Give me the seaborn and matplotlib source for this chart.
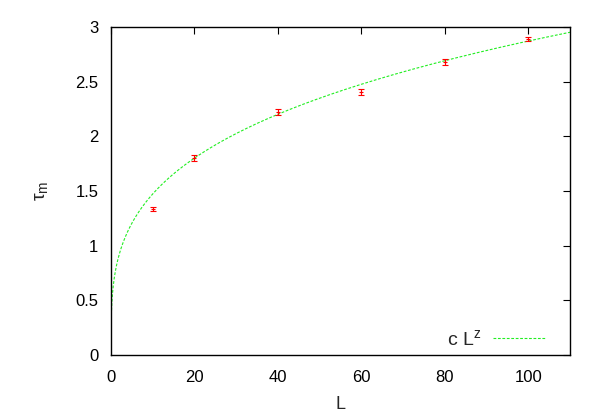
import numpy as np
import pandas as pd
import seaborn as sns
import matplotlib
matplotlib.use("Agg")
import matplotlib.pyplot as plt

# measured points
L_vals = [10, 20, 40, 60, 80, 100]
tau_m = [1.335, 1.80, 2.22, 2.405, 2.68, 2.89]
tau_err = [0.015, 0.025, 0.025, 0.025, 0.025, 0.02]

# fit c L^z
c_fit = 0.755
z_fit = 0.29

sns.set_style("white")
plt.rcParams['font.family'] = ['Liberation Sans', 'DejaVu Sans']
plt.rcParams['mathtext.fontset'] = 'custom'
plt.rcParams['mathtext.rm'] = 'Liberation Sans'
plt.rcParams['mathtext.it'] = 'Liberation Sans'

fig = plt.figure(figsize=(6, 4.2), dpi=100)
ax = fig.add_axes([0.185, 0.155, 0.765, 0.781])

L_fine = np.concatenate([[0], np.geomspace(1e-4, 110, 1500)])
fit_df = pd.DataFrame({"L": L_fine, "tau": c_fit * L_fine ** z_fit})
sns.lineplot(data=fit_df, x="L", y="tau", ax=ax, color="#22ee22",
             linestyle=(0, (2.5, 1.5)), linewidth=0.8, label=r"c L$^{\rm z}$")

ax.errorbar(L_vals, tau_m, yerr=tau_err, fmt="+", color="red", ms=3,
            mew=0.8, elinewidth=0.8, capsize=2.5, capthick=0.8)

ax.set_xlim(0, 110)
ax.set_ylim(0, 3)
ax.set_xticks([0, 20, 40, 60, 80, 100])
ax.set_yticks([0, 0.5, 1, 1.5, 2, 2.5, 3])
ax.set_yticklabels(["0", "0.5", "1", "1.5", "2", "2.5", "3"])
ax.tick_params(direction="in", length=5, width=0.8, top=True, right=True,
               labelsize=12, colors="black")
ax.tick_params(axis="x", pad=11)
ax.tick_params(axis="y", pad=9)
for s in ax.spines.values():
    s.set_color("black")
    s.set_linewidth(1)

ax.set_xlabel("L", fontsize=13, labelpad=8)
ax.set_ylabel(r"$\tau_{\rm m}$", fontsize=14, labelpad=18, rotation=90)

leg = ax.legend(loc="lower right", frameon=False, fontsize=14,
                handlelength=2.7, markerfirst=False, handletextpad=0.6,
                bbox_to_anchor=(0.985, -0.035))

fig.savefig("out.png", dpi=100)
